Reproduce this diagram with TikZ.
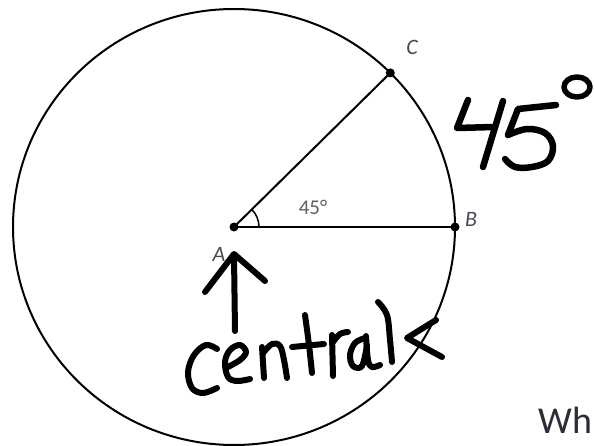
\documentclass[tikz,border=0pt]{standalone}
\usepackage{fontspec}
\newfontfamily\calib{Carlito}
\definecolor{lblgray}{HTML}{4A4A56}
\definecolor{anggray}{HTML}{5E5E66}
\definecolor{whgray}{HTML}{2C2C3A}
\begin{document}
\begin{tikzpicture}[x=1pt,y=-1pt,
  hand/.style={line width=6pt, line cap=round, line join=round},
  dot/.style={circle, fill=black, inner sep=0pt, minimum size=9pt},
  lbl/.style={text=lblgray, font=\calib\fontsize{22}{22}\selectfont\itshape, inner sep=0pt},
  anglbl/.style={text=anggray, font=\calib\fontsize{21}{21}\selectfont, inner sep=0pt}]
\useasboundingbox (0,0) rectangle (594,446);
% circle
\draw[line width=2pt] (234,227) ellipse [x radius=221, y radius=218];
% points
\node[dot] (A) at (234,227) {};
\node[dot] (B) at (455,227) {};
\node[dot] (C) at (390.3,72.9) {};
\draw[line width=2.4pt] (A.center) -- (B.center);
\draw[line width=2pt] (A.center) -- (C.center);
\draw[line width=1.5pt] (A.center) ++(25,0) arc[start angle=0, end angle=-45, radius=25];
% labels
\node[lbl] (lC) at (412,47) {C};
\node[lbl] (lB) at (471,219) {B};
\node[lbl] (lA) at (219,254) {A};
\node[anglbl] (ang) at (313,207) {45°};
% handwritten arrow
\draw[hand] (235,331) -- (234,256);
\draw[hand] (205,292) -- (234,254) -- (265,281);
% central
\draw[hand] plot[smooth, tension=0.6] coordinates {(217,349) (206,345) (194,355) (188,372) (192,388) (203,393) (217,388)};
\draw[hand] plot[smooth, tension=0.6] coordinates {(226,368) (240,360) (246,352) (240,345) (230,350) (225,362) (228,377) (237,381) (250,379)};
\draw[hand] (262,347) -- (264,378);
\draw[hand] plot[smooth, tension=0.6] coordinates {(263,353) (272,344) (280,346) (284,360) (287,378)};
\draw[hand] plot[smooth, tension=0.6] coordinates {(305,315) (309,345) (312,373)};
\draw[hand] (292,347) -- (324,344);
\draw[hand] (332,335) -- (333,376);
\draw[hand] plot[smooth, tension=0.6] coordinates {(333,342) (340,334) (348,332)};
\draw[hand] plot[smooth, tension=0.6] coordinates {(365,338) (355,343) (350,355) (353,366) (362,366) (367,345)};
\draw[hand] plot[smooth, tension=0.6] coordinates {(366,336) (368,360) (372,367) (380,365)};
\draw[hand] plot[smooth, tension=0.6] coordinates {(378,302) (387,315) (390,340) (392,362)};
\draw[hand] (436,320) -- (407,338) -- (442,357);
% big 45 degrees
\draw[hand, line width=6.5pt] (468,100) -- (457,128) -- (494,127);
\draw[hand, line width=6.5pt] (503,101) -- (483,167);
\draw[hand, line width=6.5pt] (556,105) -- (518,109) -- (508,135);
\draw[hand, line width=6.5pt] plot[smooth, tension=0.6] coordinates {(508,135) (527,129) (545,133) (553,146) (548,161) (532,167) (515,167) (505,159)};
\draw[hand, line width=5.5pt] (577,87) ellipse [x radius=13, y radius=10];
% cut-off text
\node[text=whgray, font=\calib\fontsize{38}{38}\selectfont, inner sep=0pt, anchor=base west] (wh) at (538,433) {Wh};
\end{tikzpicture}
\end{document}
